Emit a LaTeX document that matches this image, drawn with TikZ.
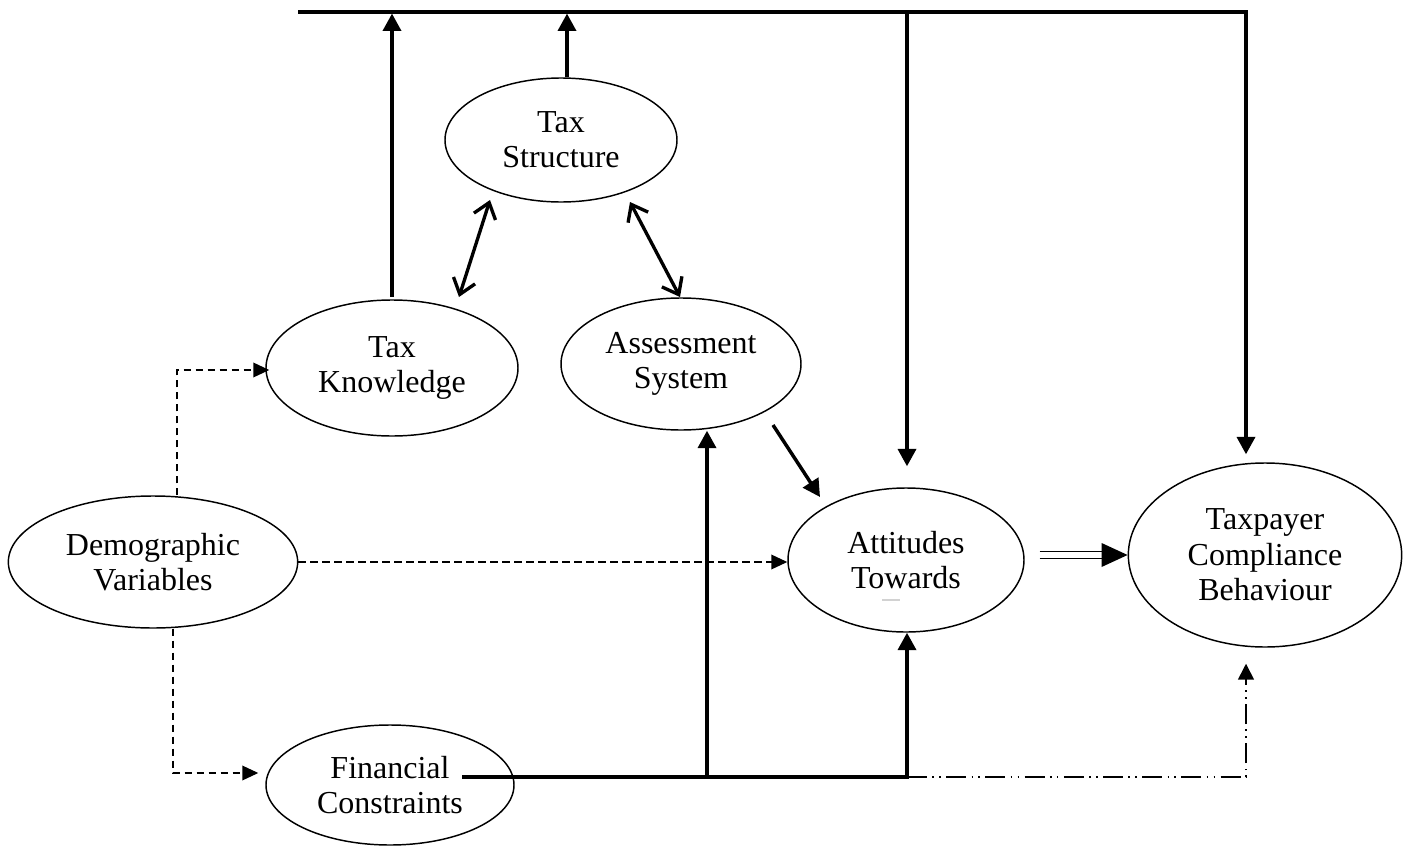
\documentclass[tikz,border=0pt]{standalone}
\usepackage{fontspec}
\setmainfont{Liberation Serif}
\usetikzlibrary{shapes.geometric,arrows.meta,calc}
\begin{document}
\begin{tikzpicture}[x=0.75pt,y=-0.75pt,
  ell/.style={ellipse,draw,line width=1.1pt,inner sep=0pt,align=center,
    font=\fontsize{24}{26.5}\selectfont},
  thk/.style={line width=2.6pt},
  thkarr/.style={thk,-{Triangle[length=13pt,width=13.5pt]}},
  barbs/.style={line width=2.5pt,
    {Straight Barb[length=11pt,width=17pt]}-{Straight Barb[length=11pt,width=17pt]}},
  dsh/.style={line width=1.1pt,dash pattern=on 5.5pt off 3.5pt,
    -{Triangle[length=12pt,width=11pt]}},
  ddot/.style={line width=1.2pt,
    dash pattern=on 15pt off 4pt on 1.2pt off 4pt on 1.2pt off 4pt,
    -{Triangle[length=12pt,width=12pt]}}]
\useasboundingbox (0,0) rectangle (1415,846);

% nodes
\node[ell,minimum width=174pt,minimum height=93pt] (ts) at (561,140) {Tax\\Structure};
\node[ell,minimum width=189pt,minimum height=102pt] (tk) at (392,368) {Tax\\Knowledge};
\node[ell,minimum width=180pt,minimum height=99pt] (as) at (681,364) {Assessment\\System};
\node[ell,minimum width=217pt,minimum height=99pt] (dv) at (153,562) {Demographic\\Variables};
\node[ell,minimum width=177pt,minimum height=108pt] (at) at (906,560) {Attitudes\\Towards};
\node[ell,minimum width=205pt,minimum height=138pt] (tp) at (1265,555) {Taxpayer\\Compliance\\Behaviour};
\node[ell,minimum width=186pt,minimum height=90pt] (fc) at (390,785) {Financial\\Constraints};

% faint mark in Attitudes
\draw[gray!35,line width=0.8pt] ($(at.center)+(-24,40)$) -- ++(18,0);

% coordinates
\coordinate (topL) at (298,12);
\coordinate (topR) at (1246,12);
\coordinate (fcs) at (462,777);
\coordinate (j1) at (707,777);
\coordinate (j2) at (907,777);
\coordinate (j3) at (1246,777);
\coordinate (c1) at (177,370);
\coordinate (c2) at (173,773);

% top feedback line
\draw[thkarr,line join=miter] (topL) -- (topR) -- ($(topR |- tp.north)+(0,-8)$);
\draw[thkarr,shorten >=1.2pt] ([yshift=2pt]tk.north) -- (tk.north |- topL);
\draw[thkarr,shorten >=1.2pt] ($(ts.north)+(6,0)$) -- ($(ts.north |- topL)+(6,0)$);
\draw[thkarr] ($(at.north |- topL)+(1,0)$) -- ($(at.north)+(1,-21)$);

% double-headed arrows
\draw[barbs] ($(tk.center)+(67,-71)$) -- ($(ts.center)+(-71,60)$);
\draw[barbs] ($(ts.center)+(69,62)$) -- ($(as.center)+(-1,-67)$);

% assessment -> attitudes
\draw[thkarr] ($(as.center)+(92,61)$) -- ($(at.center)+(-86,-63)$);

% dashed from demographic
\draw[dsh] (dv.north -| c1) -- (c1) -- ($(c1 -| tk.west)+(4,0)$);
\draw[dsh] (dv.east) -- (dv.east -| at.west);
\draw[dsh] (dv.south -| c2) -- (c2) -- ($(fc.west |- c2)+(-7,0)$);

% financial constraints lines
\draw[thkarr,line join=miter] (fcs) -- (j2) -- (j2 |- at.south);
\draw[thkarr] ($(j1)+(0,-2)$) -- (j1 |- as.south);
\draw[ddot] (j2) -- (j3) -- ($(j3 |- tp.south)+(0,16)$);

% double-line arrow attitudes -> taxpayer
\draw[line width=1.1pt] ($(tp.west)+(-88,-3.5)$) -- ($(tp.west)+(-24,-3.5)$)
  ($(tp.west)+(-88,3.5)$) -- ($(tp.west)+(-24,3.5)$);
\fill ($(tp.west)+(-26,-12)$) -- (tp.west) -- ($(tp.west)+(-26,12)$) -- cycle;
\end{tikzpicture}
\end{document}
